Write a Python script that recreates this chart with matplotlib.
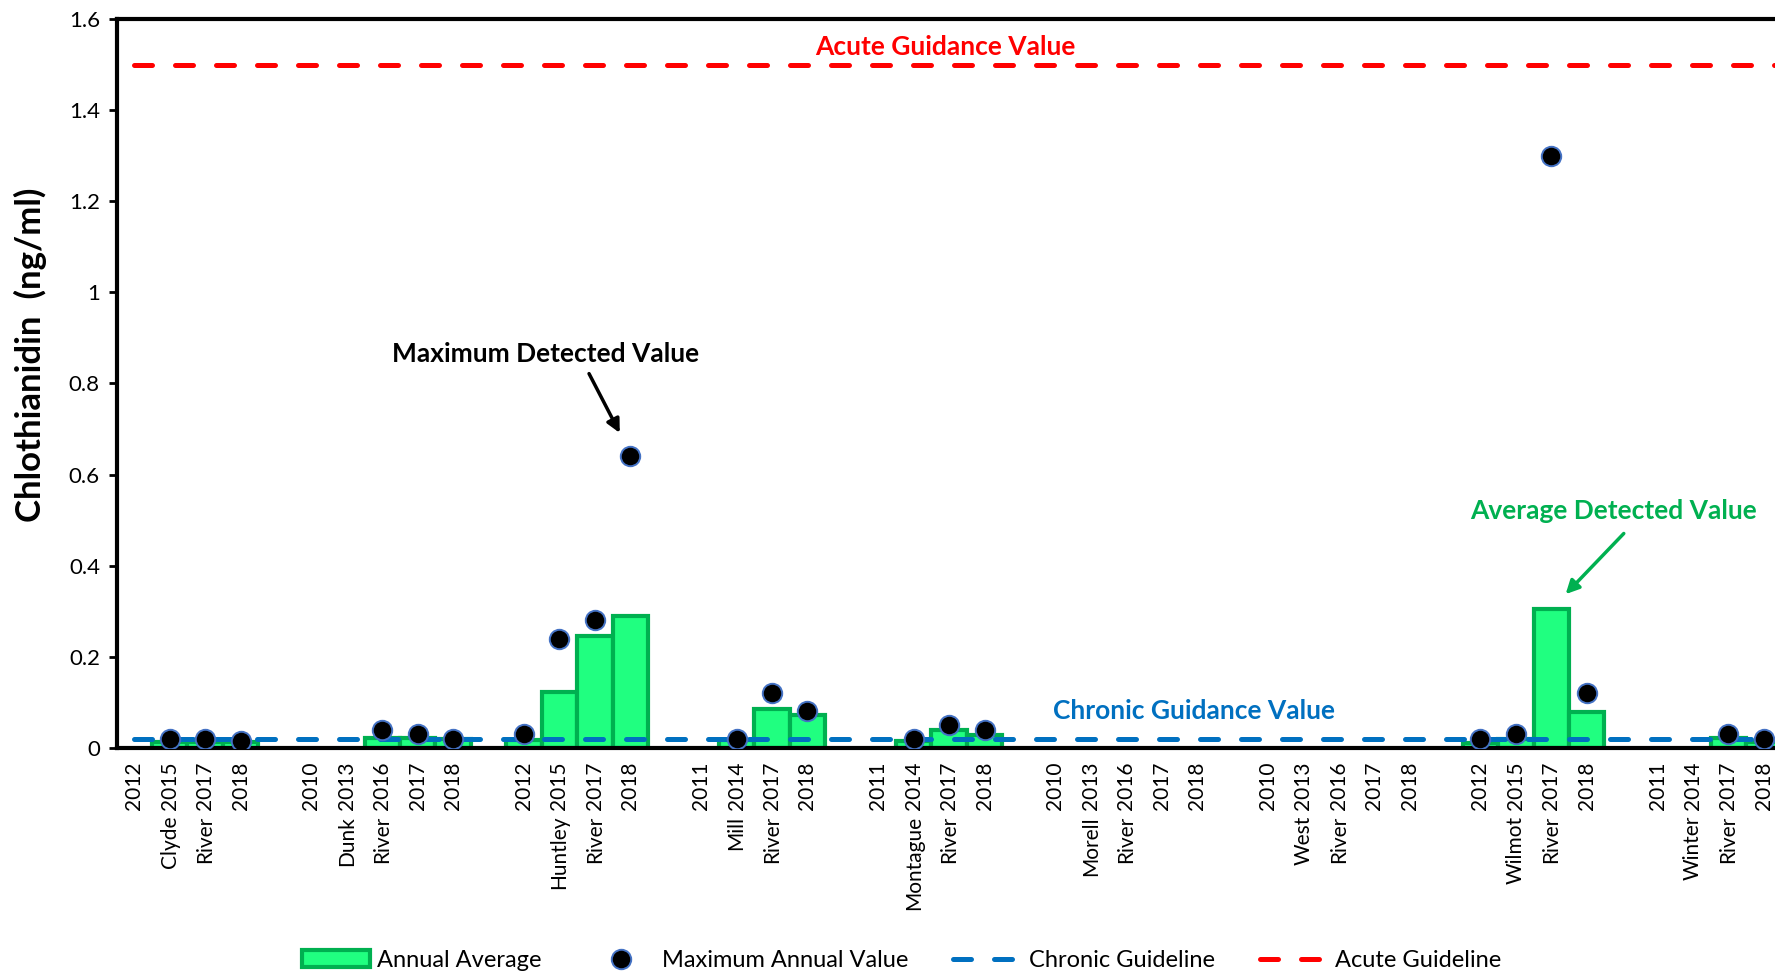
import numpy as np
import matplotlib.pyplot as plt
from matplotlib.lines import Line2D
from matplotlib.patches import Patch

rivers = ["Clyde", "Dunk", "Huntley", "Mill", "Montague", "Morell", "West", "Wilmot", "Winter"]
years = [
    [2012, 2015, 2017, 2018],
    [2010, 2013, 2016, 2017, 2018],
    [2012, 2015, 2017, 2018],
    [2011, 2014, 2017, 2018],
    [2011, 2014, 2017, 2018],
    [2010, 2013, 2016, 2017, 2018],
    [2010, 2013, 2016, 2017, 2018],
    [2012, 2015, 2017, 2018],
    [2011, 2014, 2017, 2018],
]
nan = np.nan
annual_avg = [
    [nan, 0.013, 0.013, 0.013],
    [nan, nan, 0.022, 0.022, 0.019],
    [0.017, 0.122, 0.246, 0.29],
    [nan, 0.017, 0.086, 0.073],
    [nan, 0.015, 0.039, 0.028],
    [nan, nan, nan, nan, nan],
    [nan, nan, nan, nan, nan],
    [0.011, 0.02, 0.304, 0.079],
    [nan, nan, 0.022, 0.013],
]
annual_max = [
    [nan, 0.02, 0.02, 0.014],
    [nan, nan, 0.04, 0.03, 0.02],
    [0.03, 0.24, 0.28, 0.64],
    [nan, 0.02, 0.12, 0.08],
    [nan, 0.02, 0.05, 0.04],
    [nan, nan, nan, nan, nan],
    [nan, nan, nan, nan, nan],
    [0.02, 0.03, 1.3, 0.12],
    [nan, nan, 0.03, 0.02],
]
chronic_guideline = 0.02
acute_guideline = 1.5

plt.rcParams['font.family'] = ['Lato', 'DejaVu Sans']

bar_fill = '#20FF80'
bar_edge = '#00B050'
blue = '#0070C0'
red = '#FF0000'

# one empty category between rivers, like the Excel sheet
pos = []
start = 0
for yrs in years:
    pos.append(np.arange(start, start + len(yrs)))
    start += len(yrs) + 1

x_all = np.concatenate(pos)
avg_all = np.concatenate(annual_avg)
max_all = np.concatenate(annual_max)
year_labels = [str(y) for yrs in years for y in yrs]

fig = plt.figure(figsize=(17.75, 9.73), dpi=100)
ax = fig.add_axes([0.0657, 0.2314, 0.938, 0.749])

has_avg = ~np.isnan(avg_all)
ax.bar(x_all[has_avg], avg_all[has_avg], width=1.0, color=bar_fill,
       edgecolor=bar_edge, linewidth=3, zorder=2)

lw_guide = 3.6
dash = (0, (3.6, 4.6))
ax.plot([x_all[0], x_all[-1] + 0.6], [chronic_guideline] * 2, color=blue, lw=lw_guide,
        ls=dash, dash_capstyle='round', zorder=3)
ax.plot([x_all[0], x_all[-1] + 0.6], [acute_guideline] * 2, color=red, lw=lw_guide,
        ls=dash, dash_capstyle='round', zorder=3)

has_max = ~np.isnan(max_all)
ax.plot(x_all[has_max], max_all[has_max], 'o', ms=14, mfc='black', mec='#4472C4',
        mew=1.4, zorder=4)

ax.set_xlim(-0.5, x_all[-1] + 0.5)
ax.set_ylim(0, 1.6)

yt = np.arange(0, 1.61, 0.2)
ax.set_yticks(yt)
ax.set_yticklabels([f"{v:g}" for v in np.round(yt, 1)], fontsize=16)
ax.tick_params(axis='y', direction='out', length=6, width=2, pad=6)

ax.set_xticks(x_all)
ax.set_xticklabels(year_labels, rotation=90, fontsize=15, va='top')
ax.tick_params(axis='x', length=0, pad=10)

for name, p in zip(rivers, pos):
    for word, xp in ((name, p[1]), ("River", p[2])):
        ax.annotate(word, xy=(xp, 0), xycoords=('data', 'axes fraction'),
                    xytext=(0, -49), textcoords='offset points', rotation=90,
                    ha='center', va='top', fontsize=15)

for side in ['left', 'top', 'bottom']:
    ax.spines[side].set_linewidth(3)
ax.spines['right'].set_visible(False)

ax.set_ylabel("Chlothianidin  (ng/ml)", fontsize=25, fontweight='bold')
ax.yaxis.set_label_coords(-0.042, 0.539)

ax.text(22.9, 1.538, "Acute Guidance Value", color=red, fontweight='bold',
        fontsize=19, ha='center', va='center')
ax.text(29.9, 0.081, "Chronic Guidance Value", color=blue, fontweight='bold',
        fontsize=19, ha='center', va='center')
ax.text(11.6, 0.865, "Maximum Detected Value", color='black', fontweight='bold',
        fontsize=19, ha='center', va='center')
ax.annotate('', xy=(13.74, 0.686), xytext=(12.8, 0.827),
            arrowprops=dict(arrowstyle='-|>', lw=2.5, color='black', mutation_scale=20))
ax.text(41.76, 0.519, "Average Detected Value", color=bar_edge, fontweight='bold',
        fontsize=19, ha='center', va='center')
ax.annotate('', xy=(40.35, 0.333), xytext=(42.1, 0.475),
            arrowprops=dict(arrowstyle='-|>', lw=2.5, color=bar_edge, mutation_scale=20))

handles = [
    Patch(facecolor=bar_fill, edgecolor=bar_edge, linewidth=3),
    Line2D([], [], ls='none', marker='o', ms=14, mfc='black', mec='#4472C4', mew=1.4),
    Line2D([], [], color=blue, lw=lw_guide, ls=dash, dash_capstyle='round'),
    Line2D([], [], color=red, lw=lw_guide, ls=dash, dash_capstyle='round'),
]
labels = ["Annual Average", "Maximum Annual Value", "Chronic Guideline", "Acute Guideline"]
fig.legend(handles, labels, loc='center', bbox_to_anchor=(0.508, 0.013), ncol=4,
           frameon=False, fontsize=17, handlelength=2.9, handletextpad=0.3,
           columnspacing=1.9)

fig.savefig("out.png", dpi=100)
